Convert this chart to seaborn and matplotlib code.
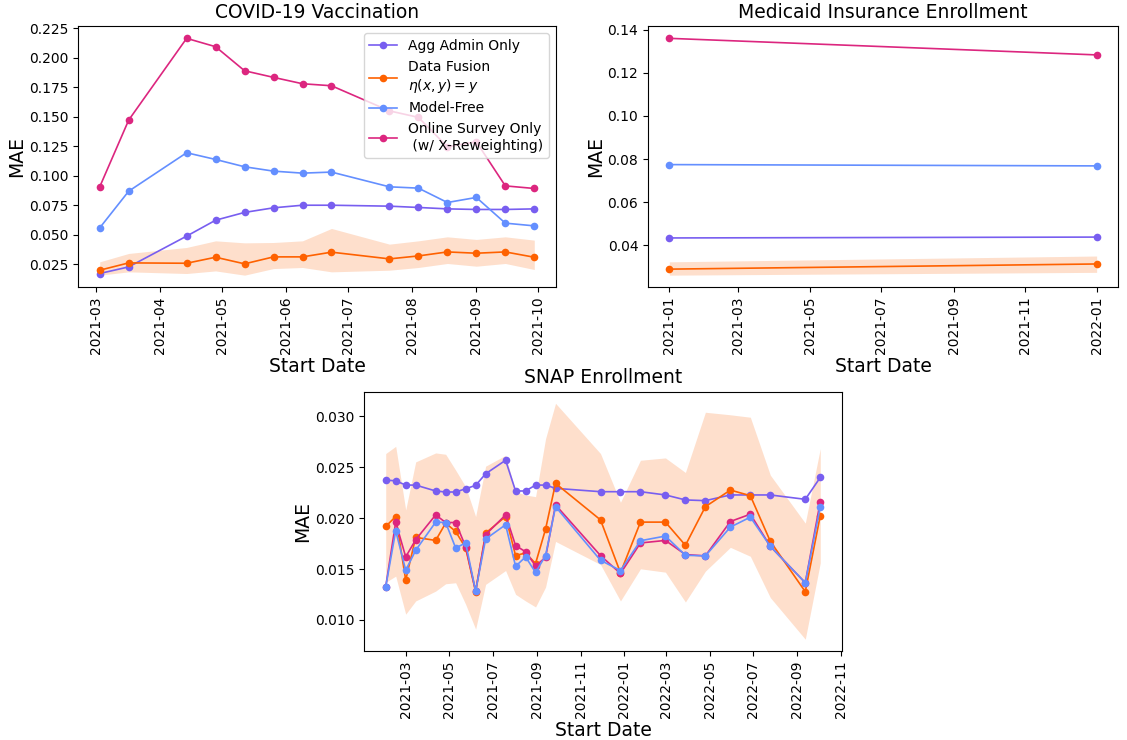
"""MAE over start date for the three survey targets."""

import matplotlib

matplotlib.use("Agg")

import matplotlib.dates as mdates
import matplotlib.pyplot as plt
import pandas as pd
import seaborn as sns

AGG = "Agg Admin Only"
FUSION = "Data Fusion\n$\\eta(x, y) = y$"
FREE = "Model-Free"
SURVEY = "Online Survey Only\n (w/ X-Reweighting)"

PALETTE = {AGG: "#785EF0", FUSION: "#FE6100", FREE: "#648FFF", SURVEY: "#DC267F"}
LEGEND_ORDER = [AGG, FUSION, FREE, SURVEY]
DRAW_ORDER = [AGG, FUSION, SURVEY, FREE]

# COVID-19 vaccination
covid_dates = ["2021-03-03", "2021-03-17", "2021-04-14", "2021-04-28", "2021-05-12",
               "2021-05-26", "2021-06-09", "2021-06-23", "2021-07-21", "2021-08-04",
               "2021-08-18", "2021-09-01", "2021-09-15", "2021-09-29"]
covid_agg = [0.0171, 0.0227, 0.0488, 0.0623, 0.0689, 0.0728, 0.0750, 0.0750, 0.0742,
             0.0731, 0.0719, 0.0714, 0.0714, 0.0719]
covid_fusion = [0.0199, 0.0261, 0.0258, 0.0309, 0.0253, 0.0312, 0.0312, 0.0352, 0.0295,
                0.0320, 0.0354, 0.0343, 0.0354, 0.0309]
covid_fusion_lo = [0.0157, 0.0185, 0.0171, 0.0193, 0.0157, 0.0213, 0.0222, 0.0185, 0.0199,
                   0.0222, 0.0256, 0.0233, 0.0256, 0.0205]
covid_fusion_hi = [0.0270, 0.0341, 0.0392, 0.0448, 0.0431, 0.0434, 0.0448, 0.0553, 0.0420,
                   0.0448, 0.0482, 0.0460, 0.0482, 0.0454]
covid_free = [0.0558, 0.0869, 0.1195, 0.1138, 0.1076, 0.1039, 0.1022, 0.1031, 0.0906,
              0.0895, 0.0773, 0.0816, 0.0598, 0.0575]
covid_survey = [0.0906, 0.1472, 0.2165, 0.2094, 0.1890, 0.1834, 0.1780, 0.1763, 0.1550,
                0.1495, 0.1245, 0.1288, 0.0914, 0.0892]

# Medicaid insurance enrollment
medicaid_dates = ["2021-01-01", "2022-01-01"]
medicaid_agg = [0.0433, 0.0437]
medicaid_fusion = [0.0288, 0.0312]
medicaid_fusion_lo = [0.0260, 0.0273]
medicaid_fusion_hi = [0.0322, 0.0349]
medicaid_free = [0.0774, 0.0768]
medicaid_survey = [0.1361, 0.1284]

# SNAP enrollment
snap_dates = ["2021-02-01", "2021-02-15", "2021-03-01", "2021-03-15", "2021-04-12",
              "2021-04-26", "2021-05-10", "2021-05-24", "2021-06-07", "2021-06-21",
              "2021-07-19", "2021-08-02", "2021-08-16", "2021-08-30", "2021-09-13",
              "2021-09-27", "2021-11-29", "2021-12-27", "2022-01-24", "2022-02-28",
              "2022-03-28", "2022-04-25", "2022-05-30", "2022-06-27", "2022-07-25",
              "2022-09-12", "2022-10-03"]
snap_agg = [0.02374, 0.02367, 0.02325, 0.02325, 0.02267, 0.02257, 0.02257, 0.02289,
            0.02322, 0.02436, 0.02569, 0.02267, 0.02267, 0.02325, 0.02325, 0.02293,
            0.02260, 0.02260, 0.02260, 0.02228, 0.02179, 0.02172, 0.02228, 0.02228,
            0.02228, 0.02185, 0.02400]
snap_fusion = [0.01918, 0.02016, 0.01391, 0.01811, 0.01781, 0.01951, 0.01869, 0.01707,
               0.01277, 0.01853, 0.02016, 0.01632, 0.01658, 0.01554, 0.01892, 0.02342,
               0.01983, 0.01463, 0.01961, 0.01961, 0.01733, 0.02113, 0.02276, 0.02221,
               0.01772, 0.01277, 0.02025]
snap_fusion_lo = [0.01370, 0.01430, 0.01056, 0.01186, 0.01283, 0.01355, 0.01365, 0.01153,
                  0.00909, 0.01349, 0.01485, 0.01251, 0.01186, 0.01127, 0.01322, 0.01771,
                  0.01544, 0.01186, 0.01502, 0.01469, 0.01176, 0.01479, 0.01713, 0.01625,
                  0.01219, 0.00810, 0.01560]
snap_fusion_hi = [0.02635, 0.02706, 0.02081, 0.02553, 0.02641, 0.02628, 0.02472, 0.02309,
                  0.02016, 0.02511, 0.02618, 0.02260, 0.02228, 0.02211, 0.02781, 0.03129,
                  0.02635, 0.02156, 0.02569, 0.02592, 0.02449, 0.03041, 0.03016, 0.02992,
                  0.02423, 0.01951, 0.02684]
snap_free = [0.01326, 0.01876, 0.01488, 0.01684, 0.01961, 0.01957, 0.01707, 0.01756,
             0.01283, 0.01795, 0.01935, 0.01527, 0.01619, 0.01466, 0.01632, 0.02113,
             0.01586, 0.01485, 0.01778, 0.01824, 0.01635, 0.01629, 0.01912, 0.02010,
             0.01723, 0.01365, 0.02113]
snap_survey = [0.01326, 0.01961, 0.01619, 0.01788, 0.02032, 0.01957, 0.01957, 0.01720,
               0.01283, 0.01837, 0.02032, 0.01730, 0.01670, 0.01530, 0.01615, 0.02130,
               0.01632, 0.01456, 0.01756, 0.01781, 0.01642, 0.01629, 0.01967, 0.02039,
               0.01723, 0.01365, 0.02162]


def long_frame(dates, series):
    frames = []
    for method, values in series.items():
        frames.append(pd.DataFrame({"date": pd.to_datetime(dates), "mae": values, "method": method}))
    return pd.concat(frames, ignore_index=True)


def draw_panel(ax, title, dates, agg, fusion, lo, hi, free, survey, locator, legend=False):
    df = long_frame(dates, {AGG: agg, FUSION: fusion, SURVEY: survey, FREE: free})
    ax.fill_between(pd.to_datetime(dates), lo, hi, color=PALETTE[FUSION], alpha=0.2,
                    linewidth=0, zorder=1)
    sns.lineplot(data=df, x="date", y="mae", hue="method", hue_order=DRAW_ORDER,
                 palette=PALETTE, marker="o", markersize=5.5, markeredgewidth=0,
                 linewidth=1.2, errorbar=None, ax=ax, legend=legend, zorder=2)
    ax.set_title(title, fontsize=13.5)
    ax.set_xlabel("Start Date", fontsize=13.5, labelpad=2)
    ax.set_ylabel("MAE", fontsize=13.5, labelpad=2)
    ax.xaxis.set_major_locator(locator)
    ax.xaxis.set_major_formatter(mdates.DateFormatter("%Y-%m"))
    ax.tick_params(axis="x", labelrotation=90, labelsize=10)
    ax.tick_params(axis="y", labelsize=10)
    if legend:
        handles, labels = ax.get_legend_handles_labels()
        lookup = dict(zip(labels, handles))
        ax.legend([lookup[k] for k in LEGEND_ORDER], LEGEND_ORDER, loc="upper right",
                  fontsize=10)


fig = plt.figure(figsize=(11.27, 7.40), dpi=100)
W, H = 1127, 740
ax_covid = fig.add_axes([78 / W, 1 - 287 / H, 478 / W, 260.5 / H])
ax_medicaid = fig.add_axes([648 / W, 1 - 287 / H, 470 / W, 260.5 / H])
ax_snap = fig.add_axes([364 / W, 1 - 651 / H, 478 / W, 259.5 / H])

draw_panel(ax_covid, "COVID-19 Vaccination", covid_dates, covid_agg, covid_fusion,
           covid_fusion_lo, covid_fusion_hi, covid_free, covid_survey,
           mdates.MonthLocator(), legend=True)
draw_panel(ax_medicaid, "Medicaid Insurance Enrollment", medicaid_dates, medicaid_agg,
           medicaid_fusion, medicaid_fusion_lo, medicaid_fusion_hi, medicaid_free,
           medicaid_survey, mdates.MonthLocator(bymonth=[1, 3, 5, 7, 9, 11]))
draw_panel(ax_snap, "SNAP Enrollment", snap_dates, snap_agg, snap_fusion, snap_fusion_lo,
           snap_fusion_hi, snap_free, snap_survey,
           mdates.MonthLocator(bymonth=[1, 3, 5, 7, 9, 11]))

fig.savefig("out.png", dpi=100)
plt.close(fig)
